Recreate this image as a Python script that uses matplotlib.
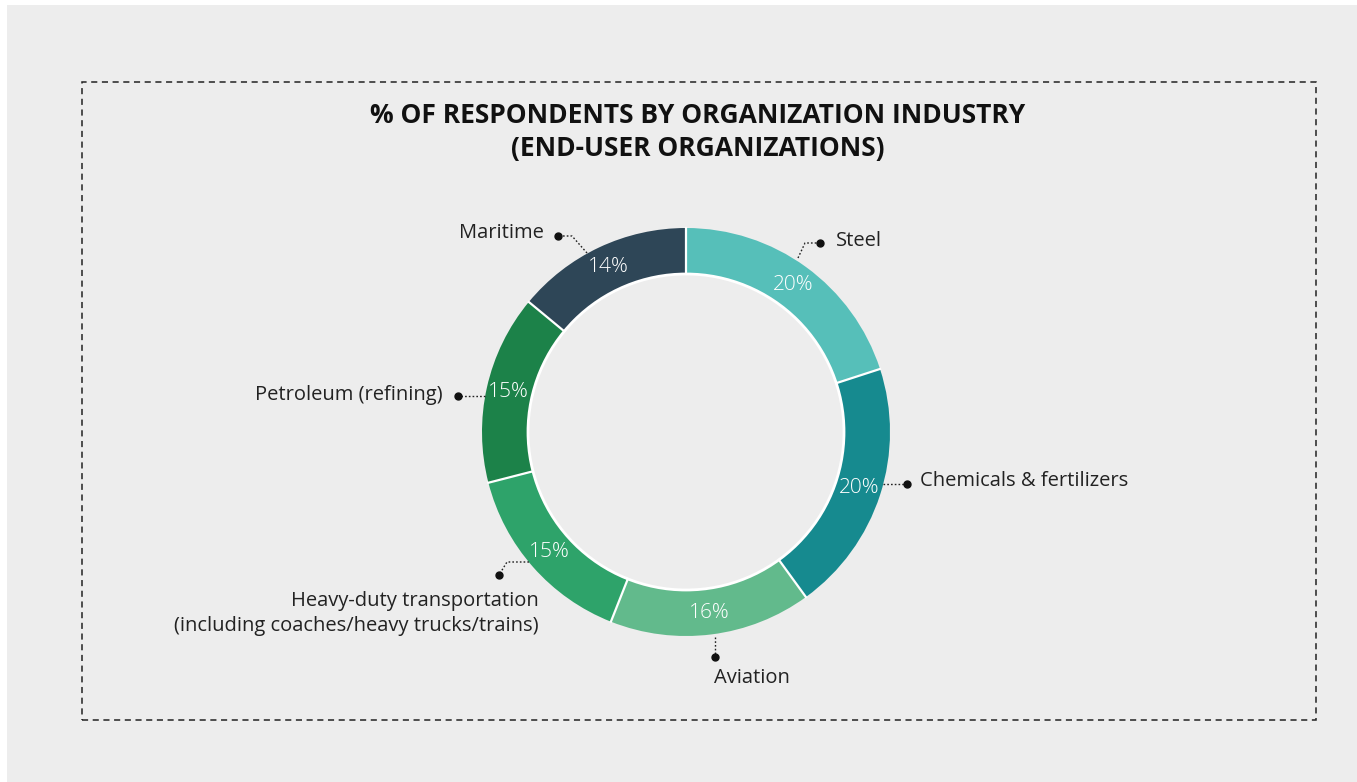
import matplotlib.pyplot as plt
import numpy as np
from matplotlib.patches import Rectangle, Circle

plt.rcParams['font.family'] = ['Open Sans', 'DejaVu Sans']

# data
industries = ["Steel", "Chemicals & fertilizers", "Aviation",
              "Heavy-duty transportation\n(including coaches/heavy trucks/trains)",
              "Petroleum (refining)", "Maritime"]
shares = [20, 20, 16, 15, 15, 14]
colors = ["#56bfb9", "#168a8f", "#62ba8c", "#2ea36a", "#1c8249", "#2e4657"]

title = "% OF RESPONDENTS BY ORGANIZATION INDUSTRY\n(END-USER ORGANIZATIONS)"

W, H = 1357, 782
BG = "#ededed"


def P(x, y):
    # pixel coords (top-left origin) -> axes coords
    return x, H - y


fig = plt.figure(figsize=(W / 100, H / 100), dpi=100)
fig.patch.set_facecolor("white")
ax = fig.add_axes([0, 0, 1, 1])

ax.add_patch(Rectangle(P(7, H), W - 7, H - 5, facecolor=BG, edgecolor="none", zorder=0))
bx, by = P(82, 720)
ax.add_patch(Rectangle((bx, by), 1316 - 82, 720 - 82, facecolor="none", edgecolor="#222222",
                       linewidth=1.1, linestyle=(0, (4, 3)), zorder=1))

cx, cy = P(686, 432)
r_out, r_in = 204, 158
wedges, _ = ax.pie(shares, colors=colors, startangle=90, counterclock=False,
                   radius=r_out, center=(cx, cy), frame=True,
                   wedgeprops=dict(width=r_out - r_in, edgecolor="none"))

# separators and inner white line
for w in wedges:
    t = np.deg2rad(w.theta1)
    ax.plot([cx + r_in * np.cos(t), cx + r_out * np.cos(t)],
            [cy + r_in * np.sin(t), cy + r_out * np.sin(t)], color="white", lw=1.6, zorder=3)
ax.add_patch(Circle((cx, cy), r_in, facecolor="none", edgecolor="white", lw=2, zorder=3))

# percentage labels
r_mid = (r_out + r_in) / 2 + 1
for w, s in zip(wedges, shares):
    t = np.deg2rad((w.theta1 + w.theta2) / 2)
    ax.text(cx + r_mid * np.cos(t), cy + r_mid * np.sin(t), f"{s}%", color="white",
            fontsize=15, fontweight="light", ha="center", va="center", zorder=4)

# leader lines: path in pixels, last point is the dot; then label position and alignment
leaders = [
    ([(798, 258), (805, 243), (820, 243)], (836, 241), "left", "center"),
    ([(883, 484), (907, 484)], (920, 481), "left", "center"),
    ([(715, 637), (715, 657)], (714, 678), "left", "center"),
    ([(529, 562), (507, 562), (499, 575)], (539, 604), "right", "top"),
    ([(485, 396), (458, 396)], (443, 395), "right", "center"),
    ([(587, 253), (572, 236), (558, 236)], (544, 233), "right", "center"),
]
for name, (path, lab, ha, va) in zip(industries, leaders):
    xs, ys = zip(*[P(x, y) for x, y in path])
    ax.plot(xs, ys, color="#222222", lw=1, linestyle=(0, (1.2, 1.5)), zorder=2)
    ax.plot(xs[-1], ys[-1], "o", color="#111111", ms=5, zorder=3)
    lx, ly = P(*lab)
    if va == "top":
        ly += 13
    ax.text(lx, ly, name, fontsize=14.5, color="#222222", ha=ha, va=va,
            multialignment="right", linespacing=1.35, zorder=4)

tx, ty = P(698, 132)
ax.text(tx, ty, title, fontsize=19, fontweight="bold", ha="center", va="center",
        color="#111111", linespacing=1.3)

ax.set_xlim(0, W)
ax.set_ylim(0, H)
ax.set_aspect("auto")
ax.axis("off")

fig.savefig("out.png", dpi=100, facecolor=fig.get_facecolor())
